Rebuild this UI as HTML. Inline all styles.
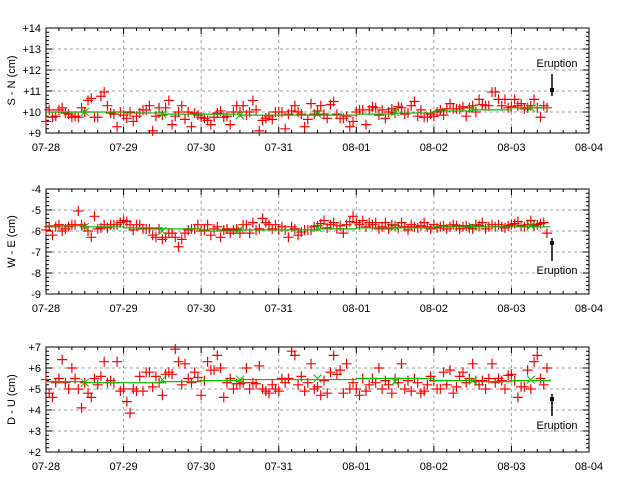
<!DOCTYPE html>
<html><head><meta charset="utf-8"><style>
html,body{margin:0;padding:0;background:#fff;}
svg{display:block;font-family:"Liberation Sans",sans-serif;}
</style></head><body>
<svg id="chart" width="640" height="480" xmlns="http://www.w3.org/2000/svg"></svg>
<script>
const xTickLabels = ["07-28","07-29","07-30","07-31","08-01","08-02","08-03","08-04"];
const snValues = [
9.55,10.1,9.75,9.8,10.1,10.2,9.95,9.9,9.75,9.8,9.75,10.2,10.0,10.55,10.65,9.75,9.75,10.75,10.95,10.3,9.95,9.9,9.3,10.0,
9.85,9.7,10.0,9.55,9.8,9.95,10.1,10.1,10.3,9.1,9.8,10.2,9.85,10.2,10.55,9.4,9.8,10.0,10.3,9.65,10.0,9.3,9.95,9.85,
9.75,9.7,9.6,9.4,9.75,9.95,10.05,9.75,9.8,9.4,10.0,10.3,10.0,10.3,9.85,10.0,10.55,10.1,9.1,9.6,9.7,9.8,9.65,10.0,
10.0,10.0,9.2,9.9,10.05,10.3,10.0,9.9,9.3,9.65,10.4,9.9,10.05,10.3,9.9,9.7,10.35,10.5,9.9,9.7,9.7,9.8,9.3,9.55,
10.0,10.1,10.1,9.4,10.1,10.25,10.2,9.85,10.1,9.7,10.0,10.15,9.95,10.25,10.2,9.9,9.95,10.3,10.5,9.8,10.1,9.75,9.75,9.9,
9.8,10.0,10.1,9.85,10.15,10.4,10.15,10.15,10.15,10.25,9.8,10.2,10.3,10.0,10.6,10.35,10.3,10.3,10.95,10.95,10.6,10.3,10.6,10.2,
10.25,10.6,10.3,10.4,10.15,10.2,10.3,10.6,10.2,9.75,10.3,10.2];
const weValues = [
-5.95,-5.8,-6.2,-5.8,-5.7,-6.0,-5.9,-5.8,-5.7,-5.7,-5.05,-5.7,-5.8,-6.0,-6.3,-5.3,-5.9,-5.85,-5.7,-5.85,-5.7,-5.7,-5.7,-5.6,
-5.5,-5.55,-5.7,-5.95,-5.7,-5.7,-5.9,-5.9,-5.9,-6.2,-6.3,-5.9,-6.4,-6.3,-6.1,-6.1,-6.3,-6.75,-6.4,-6.1,-5.95,-5.9,-5.9,-5.7,
-6.0,-5.95,-5.7,-6.2,-5.9,-5.8,-6.3,-5.95,-5.9,-6.1,-5.95,-5.9,-6.1,-5.7,-5.7,-6.1,-5.6,-5.95,-5.9,-5.4,-5.6,-5.7,-5.9,-5.7,
-5.95,-5.8,-5.95,-6.3,-5.8,-5.9,-6.2,-6.05,-5.95,-5.95,-5.95,-5.8,-5.75,-5.65,-5.5,-5.85,-5.7,-5.6,-5.9,-5.75,-6.1,-5.7,-5.55,-5.3,
-5.6,-5.7,-5.5,-5.8,-5.6,-5.7,-5.6,-5.9,-5.8,-5.6,-5.9,-5.7,-5.75,-5.85,-5.6,-5.8,-5.95,-5.7,-5.8,-5.85,-5.75,-5.6,-5.8,-5.9,
-5.7,-5.85,-5.8,-5.75,-5.9,-5.8,-5.7,-5.75,-5.9,-5.8,-5.75,-5.85,-5.9,-5.7,-5.75,-5.6,-5.9,-5.8,-5.7,-5.8,-5.7,-5.8,-5.85,-5.75,
-5.7,-5.65,-5.55,-5.75,-5.8,-5.7,-5.5,-5.75,-5.7,-5.65,-5.6,-6.1];
const duValues = [
5.45,4.8,4.6,5.3,5.5,6.4,5.3,5.0,6.0,5.5,5.0,4.1,5.3,4.8,4.6,5.5,5.2,5.6,6.3,5.3,5.4,5.3,6.3,4.9,
5.0,4.4,3.85,5.0,4.9,5.6,4.9,5.8,5.8,5.1,5.6,5.3,4.7,5.7,5.8,5.7,6.9,6.3,5.2,6.2,5.5,5.3,5.8,5.55,
4.7,5.4,6.3,5.9,5.9,6.6,6.0,4.6,5.3,5.5,5.0,5.25,5.25,5.3,6.0,5.0,5.3,5.25,6.1,5.0,4.9,4.8,5.2,5.0,
4.9,5.5,5.3,5.5,6.8,6.6,5.2,5.6,4.9,5.3,6.2,5.0,5.1,4.7,5.4,4.8,5.8,6.6,5.7,5.9,4.8,6.2,5.0,5.3,
5.0,4.7,5.5,4.9,5.2,5.5,5.3,6.0,5.0,5.4,5.2,4.8,5.5,5.3,6.2,5.0,5.4,4.9,5.5,5.3,4.8,4.9,5.2,5.6,
5.4,5.0,5.0,5.8,5.2,5.9,4.8,5.1,5.6,5.8,5.3,5.5,6.2,5.4,5.2,5.4,5.0,5.5,6.2,5.3,5.5,5.4,5.0,5.65,
5.7,5.4,4.6,5.1,5.1,5.9,5.0,6.3,6.6,5.5,5.2,6.0];
const snMeans = [10.0,10.0,9.95,9.9,9.9,9.85,9.85,9.85,9.9,9.95,10.05,10.1,10.2,10.2];
const weMeans = [-5.75,-5.8,-5.85,-5.9,-6.0,-5.95,-5.95,-5.9,-5.85,-5.85,-5.8,-5.8,-5.8,-5.8];
const duMeans = [5.35,5.3,5.3,5.35,5.4,5.45,5.45,5.45,5.5,5.5,5.4,5.35,5.4,5.45];
const markerHours = [12,36,60,84,108,132,150];
const snMarkers = [10.0,9.9,9.85,9.9,10.0,10.2,10.2];
const weMarkers = [-5.8,-6.0,-5.9,-5.85,-5.8,-5.8,-5.75];
const duMarkers = [5.3,5.45,5.45,5.5,5.35,5.4,5.45];
const eruptionHour = 156.5;

const NS="http://www.w3.org/2000/svg";
const svg=document.getElementById('chart');
const X0=46,X1=589,HOURS=168;
const xs=h=>X0+h*(X1-X0)/HOURS;
function mk(tag,attrs,parent){const e=document.createElementNS(NS,tag);for(const k in attrs)e.setAttribute(k,attrs[k]);(parent||svg).appendChild(e);return e;}

function panel(name,top,bottom,ymin,ymax,label,vals,means,markers,fmt,eru){
  const g=mk('g',{});
  
  
  const ys=v=>bottom-(v-ymin)*(bottom-top)/(ymax-ymin);
  // grid
  for(let d=1;d<7;d++){const l=mk('line',{x1:xs(d*24),x2:xs(d*24),y1:top,y2:bottom,stroke:'#a0a0a0','stroke-dasharray':'3,3'},g);
    }
  for(let v=ymin+1;v<ymax;v++){const l=mk('line',{x1:X0,x2:X1,y1:ys(v),y2:ys(v),stroke:'#a0a0a0','stroke-dasharray':'3,3'},g);
    }
  // ticks
  let p='';
  for(let i=0;i<=42;i++){const x=xs(i*4);const L=i%6==0?6:3;p+=`M${x},${bottom}v${-L}M${x},${top}v${L}`;}
  for(let i=0;i<=(ymax-ymin)*5;i++){const y=ys(ymin+i*0.2);const L=i%5==0?6:3;p+=`M${X0},${y}h${L}M${X1},${y}h${-L}`;}
  const t=mk('path',{d:p,stroke:'#000','stroke-width':1,fill:'none'},g);
  
  const b=mk('rect',{x:X0,y:top,width:X1-X0,height:bottom-top,fill:'none',stroke:'#000','stroke-width':1},g);
  
  // labels
  for(let v=ymin;v<=ymax;v++){const tx=mk('text',{x:41,y:ys(v)+4,'text-anchor':'end','font-size':11},g);tx.textContent=fmt(v);
    }
  xTickLabels.forEach((s,d)=>{const tx=mk('text',{x:xs(d*24),y:bottom+18,'text-anchor':'middle','font-size':11},g);tx.textContent=s;
    });
  const yl=mk('text',{x:0,y:0,'text-anchor':'middle','font-size':11,transform:`translate(15,${(top+bottom)/2}) rotate(-90)`},g);
  yl.textContent=label;
  // points
  let pp='';
  vals.forEach((v,h)=>{const x=xs(h),y=ys(v);pp+=`M${x-5},${y}h10M${x},${y-5}v10`;});
  const pts=mk('path',{d:pp,stroke:'#ff0000','stroke-width':1.2,fill:'none'},g);
  
  // mean step line
  let mp='';
  means.forEach((v,i)=>{const xa=xs(i*12),xb=xs(Math.min((i+1)*12,156));mp+=(i==0?'M':'L')+xa+','+ys(v)+'L'+xb+','+ys(v);});
  const ml=mk('path',{d:mp,stroke:'#00c000','stroke-width':1.2,fill:'none'},g);
  
  let xp='';
  markerHours.forEach((h,i)=>{const x=xs(h),y=ys(markers[i]);xp+=`M${x-4},${y-4}l8,8M${x-4},${y+4}l8,-8`;});
  const xm=mk('path',{d:xp,stroke:'#00c000','stroke-width':1,fill:'none'},g);
  
  // eruption annotation
  const ex=Math.round(xs(eruptionHour));
  const al=mk('line',{x1:ex,x2:ex,y1:eru.y1,y2:eru.y2,stroke:'#000','stroke-width':1.5},g);
  
  const sq=mk('rect',{x:ex-2,y:eru.sq-2,width:4,height:4,fill:'#000'},g);
  
  const et=mk('text',{x:557,y:eru.ty,'text-anchor':'middle','font-size':11},g);et.textContent='Eruption';
  
}
const plus=v=>'+'+v;
panel('s-n',28,133,9,14,'S - N (cm)',snValues,snMeans,snMarkers,plus,{y1:74,y2:96,sq:90,ty:67});
panel('w-e',189,294,-9,-4,'W - E (cm)',weValues,weMeans,weMarkers,v=>String(v).replace('-','−').replace('−','-'),{y1:238,y2:261,sq:243,ty:274});
panel('d-u',347,452,2,7,'D - U (cm)',duValues,duMeans,duMarkers,plus,{y1:394,y2:416,sq:399,ty:429});
</script>
</body></html>
